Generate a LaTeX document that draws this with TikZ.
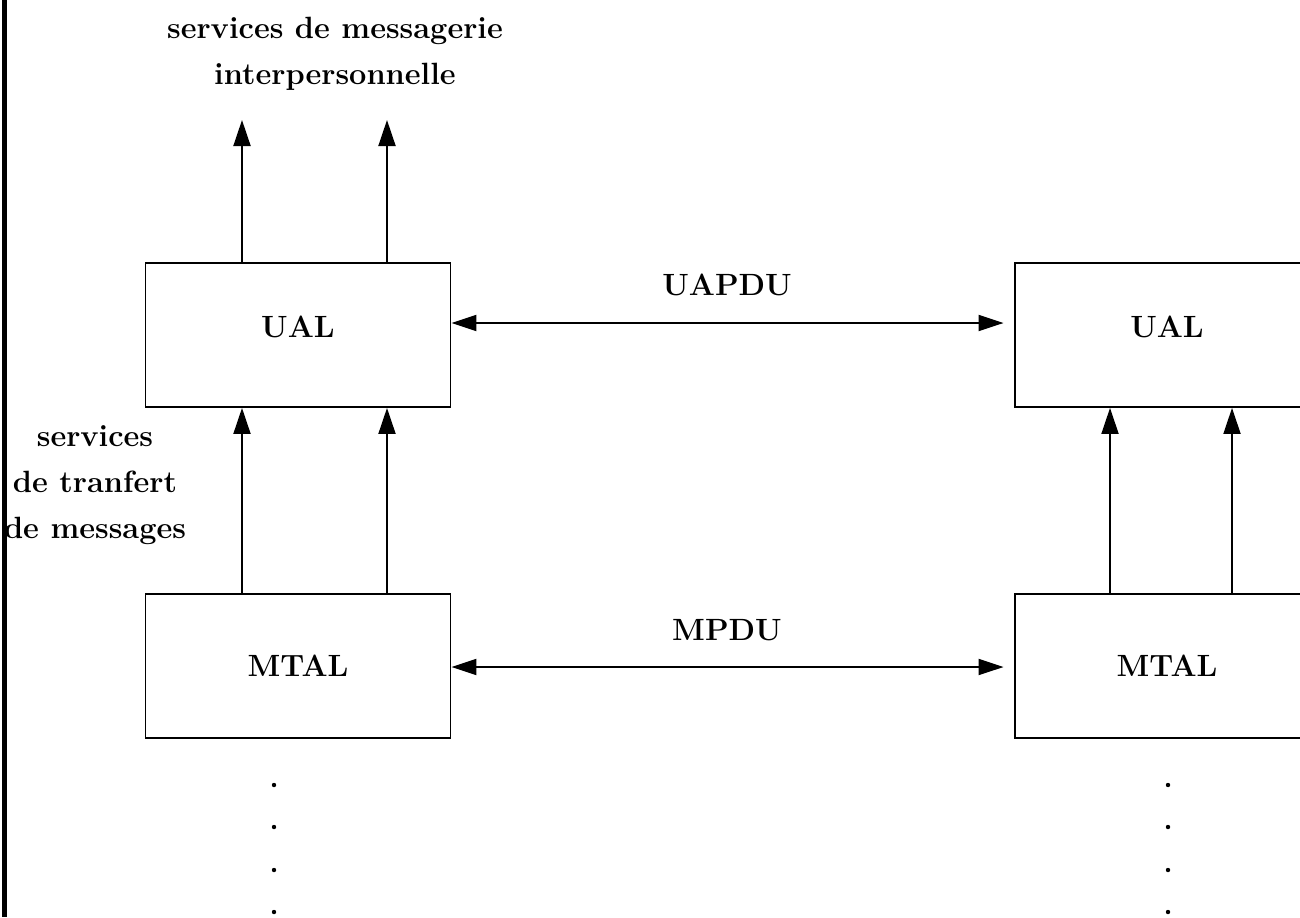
\documentclass[tikz,border=0pt]{standalone}
\usepackage{tikz}
\usetikzlibrary{arrows.meta,positioning}

\begin{document}
\begin{tikzpicture}[x=0.02cm,y=-0.02cm,
  every node/.style={font=\fontsize{17.5}{26}\selectfont\bfseries},
  layer/.style={draw,line width=1.1pt,minimum width=6.1cm,minimum height=2.88cm,
                inner sep=0pt},
  flow/.style={line width=1.1pt,-{Triangle[length=0.52cm,width=0.34cm]}},
  both/.style={line width=1.1pt,{Triangle[length=0.5cm,width=0.32cm]}-{Triangle[length=0.5cm,width=0.32cm]}},
  dot/.style={circle,fill=black,inner sep=0pt,minimum size=2.5pt},
]
\useasboundingbox (0,0) rectangle (1300,917);
\clip (0,0) rectangle (1300,917);

% scanned page edge
\fill[black] (2,0) rectangle (7,917);

% left stack
\node[layer] (ual1)  at (298,335) {\raisebox{0.35cm}{UAL}};
\node[layer] (mtal1) at (298,666) {MTAL};
% right stack (cut by the page edge)
\node[layer] (ual2)  at (1167,335) {\raisebox{0.35cm}{UAL}};
\node[layer] (mtal2) at (1167,666) {MTAL};

% services offered upward
\coordinate (s1) at (242,120);
\coordinate (s2) at (387,120);
\draw[flow] (ual1.north -| s1) -- (s1);
\draw[flow] (ual1.north -| s2) -- (s2);
\node[align=center] (msg) at (335,54) {services de messagerie\\ interpersonnelle};

% MTAL -> UAL
\draw[flow] (mtal1.north -| s1) -- (ual1.south -| s1);
\draw[flow] (mtal1.north -| s2) -- (ual1.south -| s2);
\coordinate (r1) at (1110,0);
\coordinate (r2) at (1232,0);
\draw[flow] (mtal2.north -| r1) -- (ual2.south -| r1);
\draw[flow] (mtal2.north -| r2) -- (ual2.south -| r2);
\node[align=center] (mts) at (95,485) {services\\ de tranfert\\ de messages};

% peer protocols
\draw[both,shorten >=10*0.02cm] (ual1.east |- 0,323) -- (ual2.west |- 0,323);
\node (uapdu) at (727,285) {UAPDU};
\draw[both,shorten >=10*0.02cm] (mtal1.east |- 0,667) -- (mtal2.west |- 0,667);
\node (mpdu) at (727,630) {MPDU};

% lower layers
\foreach \y in {785,827,870,912} {
  \node[dot] (dl\y) at (274,\y) {};
  \node[dot] (dr\y) at (1168,\y) {};
}
\end{tikzpicture}
\end{document}
